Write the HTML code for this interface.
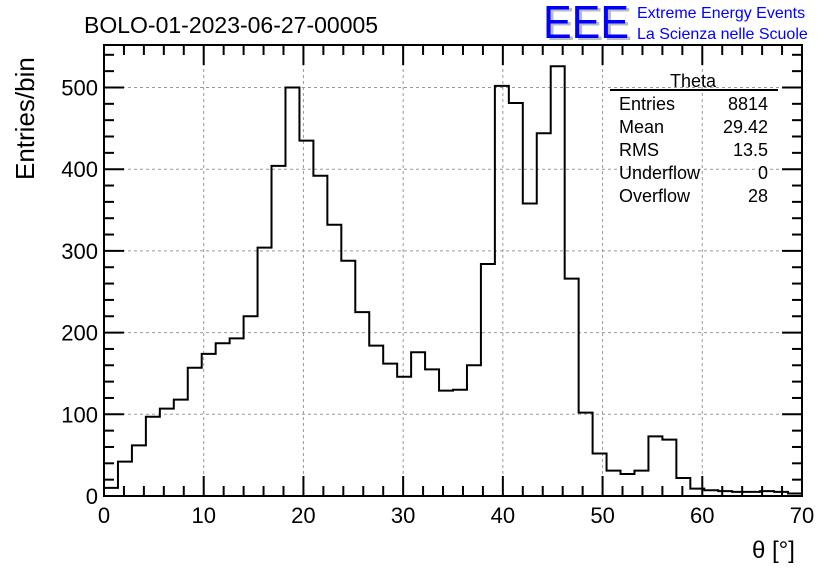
<!DOCTYPE html>
<html><head><meta charset="utf-8"><style>
body{margin:0;background:#fff;}
svg{display:block;font-family:"Liberation Sans",sans-serif;}
</style></head><body>
<svg id="c" width="836" height="572">
<rect width="836" height="572" fill="#fff"/>
<text x="84" y="33" font-size="23">BOLO-01-2023-06-27-00005</text>
<g>
<text x="546" y="40" font-size="46" fill="#bbb" textLength="86" lengthAdjust="spacingAndGlyphs">EEE</text>
<text x="543" y="38" font-size="46" fill="#0000ff" textLength="86" lengthAdjust="spacingAndGlyphs">EEE</text>
<text x="637" y="18" font-size="16" fill="#0000ff">Extreme Energy Events</text>
<text x="637" y="39" font-size="16" fill="#0000ff">La Scienza nelle Scuole</text>
</g>
<g id="grid"></g>
<g id="ticks"></g>
<path id="hist" fill="none" stroke="#000" stroke-width="2"/>
<rect x="104" y="45" width="698" height="451" fill="none" stroke="#000" stroke-width="2"/>
<g id="labels" font-size="22"></g>
<text transform="translate(34,180) rotate(-90)" font-size="26">Entries/bin</text>
<text x="752" y="558" font-size="24">θ [°]</text>
<g font-size="18">
<text x="693" y="87" font-size="18" text-anchor="middle">Theta</text>
<line x1="610" y1="90" x2="778" y2="90" stroke="#000" stroke-width="2"/>
<text x="619" y="110">Entries</text><text x="768" y="110" text-anchor="end">8814</text>
<text x="619" y="133">Mean</text><text x="768" y="133" text-anchor="end">29.42</text>
<text x="619" y="156">RMS</text><text x="768" y="156" text-anchor="end">13.5</text>
<text x="619" y="179">Underflow</text><text x="768" y="179" text-anchor="end">0</text>
<text x="619" y="202">Overflow</text><text x="768" y="202" text-anchor="end">28</text>
</g>
</svg>
<script>
const binLow = 0, binHigh = 70;
const counts = [10,42,62,97,107,118,157,174,187,193,220,304,404,500,435,392,332,288,225,184,162,146,176,155,129,130,160,284,502,481,358,444,526,266,102,52,31,27,31,73,69,22,9,7,6,5,5,6,5,3];
const xTicks = [0,10,20,30,40,50,60,70];
const yTicks = [0,100,200,300,400,500];
const X0=104,X1=802,Y0=496,Y1=45,YMAX=552;
const sx=v=>X0+(v-binLow)/(binHigh-binLow)*(X1-X0);
const sy=v=>Y0-v/YMAX*(Y0-Y1);
const NS="http://www.w3.org/2000/svg";
function mk(tag,attrs,parent){const e=document.createElementNS(NS,tag);for(const k in attrs)e.setAttribute(k,attrs[k]);parent.appendChild(e);return e;}
const grid=document.getElementById('grid'),ticks=document.getElementById('ticks'),labels=document.getElementById('labels');
xTicks.forEach(t=>{
 const x=sx(t);
 if(t>binLow&&t<binHigh){const g=mk('line',{x1:x,x2:x,y1:Y1,y2:Y0,stroke:'#999','stroke-dasharray':'3,3'},grid);
 
 }
 const l=mk('text',{x:x,y:523,'text-anchor':'middle'},labels);l.textContent=t;
 
 
});
yTicks.forEach(t=>{
 const y=sy(t);
 if(t>0){const g=mk('line',{x1:X0,x2:X1,y1:y,y2:y,stroke:'#999','stroke-dasharray':'3,3'},grid);
 
 }
 const l=mk('text',{x:98,y:y+8,'text-anchor':'end'},labels);l.textContent=t;
 
 
});
for(let v=binLow;v<=binHigh;v+=2){const x=sx(v),len=(v%10===0)?20:10;
 mk('line',{x1:x,x2:x,y1:Y0,y2:Y0-len,stroke:'#000','stroke-width':2},ticks);
 mk('line',{x1:x,x2:x,y1:Y1,y2:Y1+len,stroke:'#000','stroke-width':2},ticks);}
for(let v=0;v<=YMAX;v+=20){const y=sy(v),len=(v%100===0)?20:10;
 mk('line',{x1:X0,x2:X0+len,y1:y,y2:y,stroke:'#000','stroke-width':2},ticks);
 mk('line',{x1:X1,x2:X1-len,y1:y,y2:y,stroke:'#000','stroke-width':2},ticks);}
const w=(binHigh-binLow)/counts.length;
let d='M'+sx(binLow)+','+sy(0);
counts.forEach((c,i)=>{d+=' L'+sx(binLow+i*w)+','+sy(c)+' L'+sx(binLow+(i+1)*w)+','+sy(c);});
d+=' L'+sx(binHigh)+','+sy(0);
document.getElementById('hist').setAttribute('d',d);
</script>
</body></html>
